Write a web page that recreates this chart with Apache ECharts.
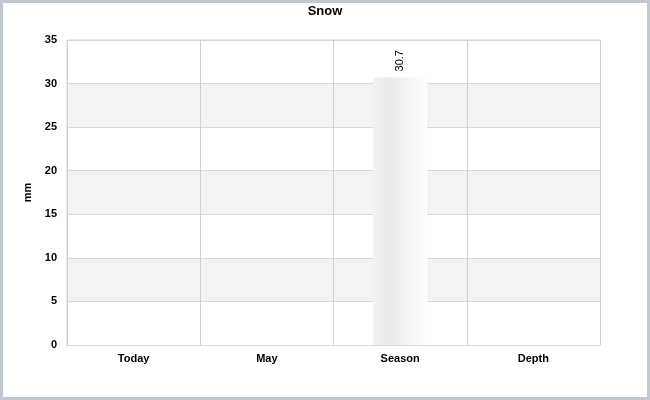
<!DOCTYPE html>
<html>
<head>
<meta charset="utf-8">
<script src="https://cdn.jsdelivr.net/npm/echarts@6/dist/echarts.min.js"></script>
<style>
	html, body { margin: 0; padding: 0; background: #fff; }
	#main { width: 650px; height: 400px; }
</style>
</head>
<body>
<div id="main"></div>
<script>
	// 数据
	var categories = ['Today', 'May', 'Season', 'Depth'];
	var snowValues = [0, 0, 30.7, 0];
	var yTicks = [0, 5, 10, 15, 20, 25, 30, 35];

	var mychart = echarts.init(document.getElementById('main'));
	var font = 'Liberation Sans, Arial, sans-serif';

	var option = {
		animation: false,
		title: {
			text: 'Snow',
			left: 'center',
			top: 0,
			textStyle: { fontFamily: font, fontSize: 13, fontWeight: 'bold', color: '#000' }
		},
		graphic: [{
			type: 'rect',
			shape: { x: 1.5, y: 1.5, width: 647, height: 397 },
			style: { fill: 'none', stroke: '#c0c9d1', lineWidth: 3 },
			z: 100
		}],
		grid: {
			left: 67,
			right: 50,
			top: 40,
			bottom: 55,
			show: true,
			borderColor: '#d8d8d8',
			borderWidth: 1,
			backgroundColor: 'transparent'
		},
		xAxis: {
			type: 'category',
			data: categories,
			axisTick: { show: false },
			axisLine: { lineStyle: { color: '#d8d8d8' } },
			splitLine: { show: true, lineStyle: { color: '#d0d0d0' } },
			axisLabel: { fontFamily: font, fontSize: 11, fontWeight: 'bold', color: '#000', margin: 8 }
		},
		yAxis: {
			type: 'value',
			min: yTicks[0],
			max: yTicks[yTicks.length - 1],
			interval: 5,
			name: 'mm',
			nameLocation: 'middle',
			nameGap: 33,
			nameTextStyle: { fontFamily: font, fontSize: 11, fontWeight: 'bold', color: '#000' },
			axisLine: { show: false },
			axisTick: { show: false },
			splitLine: { lineStyle: { color: '#d8d8d8' } },
			splitArea: { show: true, areaStyle: { color: ['#ffffff', '#f3f3f3'] } },
			axisLabel: { fontFamily: font, fontSize: 11, fontWeight: 'bold', color: '#000', margin: 10 }
		},
		series: [{
			type: 'bar',
			data: snowValues,
			barWidth: 54,
			itemStyle: {
				color: new echarts.graphic.LinearGradient(0, 0, 1, 0, [
					{ offset: 0, color: '#f2f2f2' },
					{ offset: 0.3, color: '#e9e9e9' },
					{ offset: 1, color: '#ffffff' }
				])
			},
			label: {
				show: true,
				position: 'top',
				rotate: 90,
				align: 'left',
				verticalAlign: 'middle',
				distance: 6,
				fontFamily: font,
				fontSize: 11,
				color: '#000',
				formatter: function (p) {
					return p.value ? p.value : '';
				}
			}
		}]
	};

	mychart.setOption(option);
</script>
</body>
</html>
